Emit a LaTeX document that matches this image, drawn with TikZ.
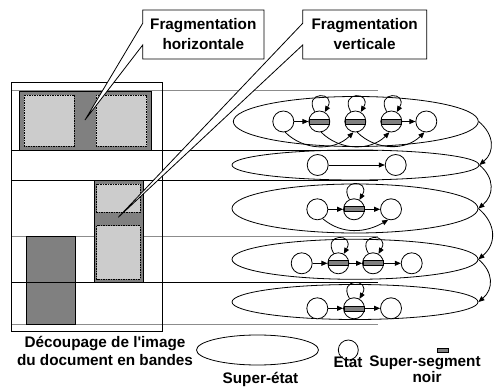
\documentclass[tikz,border=0pt]{standalone}
\usepackage{fontspec}
\newfontfamily\lbsans{Liberation Sans}
\usetikzlibrary{shapes.geometric,arrows.meta}
\definecolor{dk}{HTML}{808080}
\definecolor{lt}{HTML}{CCCCCC}
\definecolor{ln}{HTML}{8C8C8C}
\newcommand\myloop[1]{\draw[arr] (#1.115) .. controls +(120:24) and +(60:24) .. (#1.60);}
\begin{document}
\begin{tikzpicture}[x=1pt,y=1pt, line width=0.8pt,
  txt/.style={font=\lbsans\fontsize{15.3}{18}\selectfont\bfseries, inner sep=0pt, anchor=base},
  st/.style={circle, draw, minimum size=21pt, inner sep=0pt, fill=white},
  sst/.style={ellipse, draw, inner sep=0pt},
  bar/.style={draw, fill=dk, minimum width=20pt, minimum height=5pt, inner sep=0pt, line width=0.6pt},
  arr/.style={-{Triangle[length=6pt,width=5pt]}},
  blk/.style={draw, fill=dk},
  frag/.style={draw, fill=lt, dash pattern=on 1.5pt off 1pt, line width=0.6pt},
  graybl/.style={draw=ln, line width=1pt},
  blackbl/.style={draw=black, line width=0.9pt}
]
\useasboundingbox (0,0) rectangle (503,-387);

% band lines
\draw[graybl] (11.7,-91) -- (378,-91);
\draw[blackbl] (11.7,-150) -- (378,-150);
\draw[blackbl] (11.7,-180) -- (378,-180);
\draw[graybl] (11.7,-237) -- (378,-237);
\draw[blackbl] (11.7,-282) -- (378,-282);
\draw[graybl] (11.7,-324) -- (378,-324);

% document image
\draw (11.7,-82) rectangle (162.3,-331);
\draw[blk] (19,-91) rectangle (151,-150);
\draw[frag] (24,-95) rectangle (74,-146);
\draw[frag] (96,-95) rectangle (146.7,-146);
\draw[blk] (94.3,-180) rectangle (143.3,-282);
\draw[frag] (96.7,-184) rectangle (140,-212);
\draw[frag] (96.7,-225.7) rectangle (140,-279);
\draw[blk] (26,-236.7) rectangle (75.7,-324);
\draw[blackbl] (26,-282) -- (75.7,-282);

% super-states
\node[sst, minimum width=245pt, minimum height=50pt] (E1) at (355.8,-121.5) {};
\node[sst, minimum width=247pt, minimum height=30pt] (E2) at (355.5,-165) {};
\node[sst, minimum width=246pt, minimum height=49pt] (E3) at (355,-208.5) {};
\node[sst, minimum width=246pt, minimum height=40pt] (E4) at (355,-259.3) {};
\node[sst, minimum width=246pt, minimum height=35pt] (E5) at (355,-302) {};

% band 1
\node[st] (a1) at (283.3,-121.5) {};
\node[st] (a2) at (319.3,-121.5) {};
\node[st] (a3) at (355.3,-121.5) {};
\node[st] (a4) at (391.3,-121.5) {};
\node[st] (a5) at (426.3,-121.5) {};
\node[bar] (ba2) at (a2) {};
\node[bar] (ba3) at (a3) {};
\node[bar] (ba4) at (a4) {};
\draw[arr] (a1) -- (a2);
\draw[arr] (a4) -- (a5);
\draw[arr] (a1.-80) to[out=-45,in=-135] (a3.-100);
\draw[arr] (a2.-80) to[out=-45,in=-135] (a4.-100);
\draw[arr] (a3.-80) to[out=-45,in=-135] (a5.-100);
\myloop{a2}\myloop{a3}\myloop{a4}

% band 2
\node[st] (c1) at (317.7,-165) {};
\node[st] (c2) at (395.7,-165) {};
\draw[arr] (c1) -- (c2);

% band 3
\node[st] (b1) at (317.3,-209.3) {};
\node[st] (b2) at (354,-209.3) {};
\node[st] (b3) at (391,-209.3) {};
\node[bar] (bb2) at (b2) {};
\draw[arr] (b1) -- (b2);
\draw[arr] (b2) -- (b3);
\draw[arr] (b1.-60) to[out=-40,in=-150] (b3.-105);
\myloop{b2}

% band 4
\node[st] (d1) at (301.7,-263.3) {};
\node[st] (d2) at (338.3,-263.3) {};
\node[st] (d3) at (373,-263.3) {};
\node[st] (d4) at (411.7,-263.3) {};
\node[bar] (bd2) at (d2) {};
\node[bar] (bd3) at (d3) {};
\draw[arr] (d1) -- (d2);
\draw[arr] (d2) -- (d3);
\draw[arr] (d3) -- (d4);
\myloop{d2}\myloop{d3}

% band 5
\node[st] (f1) at (317.3,-308.3) {};
\node[st] (f2) at (354,-308.3) {};
\node[st] (f3) at (391,-308.3) {};
\node[bar] (bf2) at (f2) {};
\draw[arr] (f1) -- (f2);
\draw[arr] (f2) -- (f3);
\myloop{f2}

% links between super-states
\draw[arr] (E1.east) to[out=-40,in=40,looseness=1.2] (E2.east);
\draw[arr] (E2.east) to[out=-40,in=40,looseness=1.2] (E3.east);
\draw[arr] (E3.east) to[out=-40,in=40,looseness=1.2] (E4.east);
\draw[arr] (E4.east) to[out=-40,in=40,looseness=1.2] (E5.east);

% callouts
\draw[fill=white] (142.7,-10) -- (264,-10) -- (264,-59) -- (142.7,-59) -- (142.7,-45) -- (85,-120) -- (142.7,-23.3) -- cycle;
\node[txt] (h1) at (203.3,-29.3) {Fragmentation};
\node[txt] (h2) at (203.3,-49.3) {horizontale};
\draw[fill=white] (302.7,-10) -- (426.7,-10) -- (426.7,-59) -- (302.7,-59) -- (302.7,-45) -- (118.3,-217.3) -- (302.7,-23.3) -- cycle;
\node[txt] (v1) at (364.7,-29.3) {Fragmentation};
\node[txt] (v2) at (364.7,-49.3) {verticale};

% captions and legend
\node[txt] (t1) at (105,-347.5) {Découpage de l'image};
\node[txt] (t2) at (105,-365.5) {du document en bandes};
\node[sst, minimum width=122pt, minimum height=30pt] (L1) at (257.5,-350) {};
\node[circle, draw, minimum size=20pt, inner sep=0pt] (L2) at (348.3,-350) {};
\node[draw, fill=dk, minimum width=11pt, minimum height=4pt, inner sep=0pt, line width=0.6pt] (L3) at (442.8,-350.3) {};
\node[txt] (l1) at (260.5,-383) {Super-état};
\node[txt] (l2) at (348,-367.5) {Etat};
\node[txt] (l3) at (425,-366) {Super-segment};
\node[txt] (l4) at (427,-382.5) {noir};
\end{tikzpicture}
\end{document}
